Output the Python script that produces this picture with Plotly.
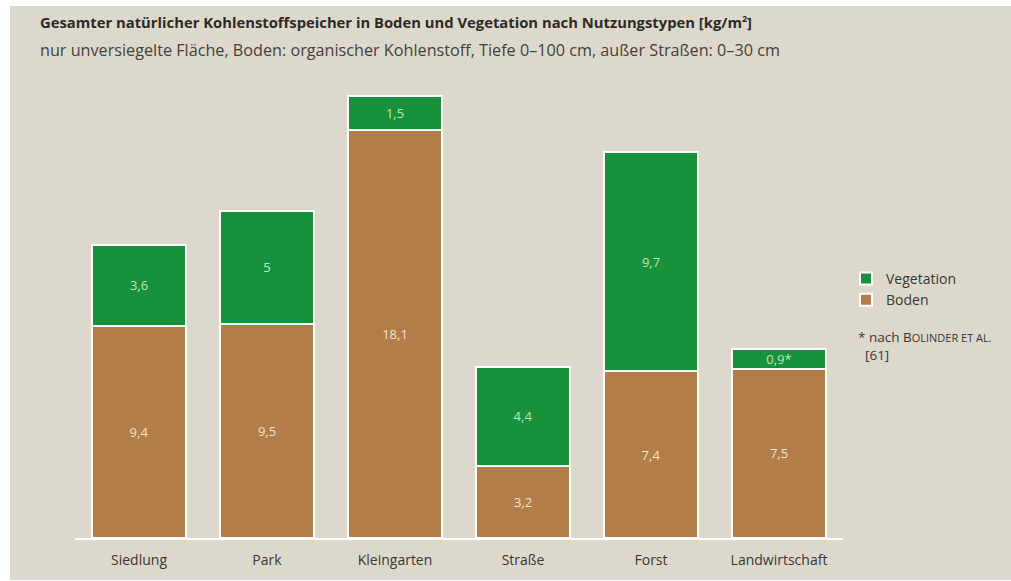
import plotly.graph_objects as go

# Nutzungstypen und Kohlenstoffspeicher [kg/m²]
categories = ["Siedlung", "Park", "Kleingarten", "Straße", "Forst", "Landwirtschaft"]
boden = [9.4, 9.5, 18.1, 3.2, 7.4, 7.5]
vegetation = [3.6, 5.0, 1.5, 4.4, 9.7, 0.9]
vegetation_notes = ["", "", "", "", "", "*"]

GREEN = "#18913d"
BROWN = "#b27d49"
BG = "#dcd9cc"
FONT = "Open Sans"


def de_fmt(v):
    s = f"{v:.1f}".rstrip("0").rstrip(".")
    return s.replace(".", ",")


fig = go.Figure()

fig.add_trace(go.Bar(
    name="Boden",
    x=categories,
    y=boden,
    marker=dict(color=BROWN, line=dict(color="white", width=2)),
    text=[de_fmt(v) for v in boden],
    textposition="inside",
    insidetextanchor="middle",
    textangle=0,
    textfont=dict(family=FONT, size=13, color="#f3e6d4"),
    hoverinfo="skip",
))
fig.add_trace(go.Bar(
    name="Vegetation",
    x=categories,
    y=vegetation,
    marker=dict(color=GREEN, line=dict(color="white", width=2)),
    text=[de_fmt(v) + n for v, n in zip(vegetation, vegetation_notes)],
    textposition="inside",
    insidetextanchor="middle",
    textangle=0,
    textfont=dict(family=FONT, size=13, color="#bfe8bd"),
    hoverinfo="skip",
))

# beige panel with a thin white margin
fig.add_shape(type="rect", xref="paper", yref="paper",
              x0=-65 / 768, x1=1.5, y0=-42 / 451, y1=(451 + 81) / 451,
              fillcolor=BG, line=dict(width=0), layer="below")

fig.add_annotation(
    xref="paper", yref="paper", x=-37 / 768, y=(451 + 65) / 451,
    xanchor="left", yanchor="middle", showarrow=False,
    text="<b>Gesamter natürlicher Kohlenstoffspeicher in Boden und Vegetation nach Nutzungstypen "
         "[kg/m<sup><span style='font-size:9px'>2</span></sup>]</b>",
    font=dict(family=FONT, size=14.8, color="#2e2a26"),
)
fig.add_annotation(
    xref="paper", yref="paper", x=-37 / 768, y=(451 + 37) / 451,
    xanchor="left", yanchor="middle", showarrow=False,
    text="nur unversiegelte Fläche, Boden: organischer Kohlenstoff, Tiefe 0–100 cm, außer Straßen: 0–30 cm",
    font=dict(family=FONT, size=16.2, color="#44403b"),
)
fig.add_annotation(
    xref="paper", yref="paper", x=(856 - 75) / 768, y=(538 - 346) / 451,
    xanchor="left", yanchor="middle", showarrow=False, align="left",
    text="* nach B<span style='font-size:11px'>OLINDER ET AL.</span><br>  [61]",
    font=dict(family=FONT, size=13.5, color="#3a3632"),
)

fig.update_layout(
    width=1011, height=581,
    margin=dict(l=75, r=168, t=87, b=43),
    paper_bgcolor="white",
    plot_bgcolor=BG,
    barmode="stack",
    bargap=0.265,
    showlegend=True,
    uniformtext=dict(mode="show", minsize=13),
    legend=dict(
        x=(846 - 75) / 768, y=(538 - 263) / 451, xanchor="left", yanchor="top",
        bgcolor="rgba(0,0,0,0)", traceorder="reversed",
        font=dict(family=FONT, size=14, color="#3a3632"),
        itemwidth=30, tracegroupgap=0,
    ),
    xaxis=dict(
        showline=True, linecolor="white", linewidth=2,
        ticks="", showgrid=False, ticklabelstandoff=8,
        tickfont=dict(family=FONT, size=14, color="#3a3632"),
    ),
    yaxis=dict(
        range=[0, 20], visible=False, showgrid=False, zeroline=False,
    ),
)

fig.write_html("out.html")
